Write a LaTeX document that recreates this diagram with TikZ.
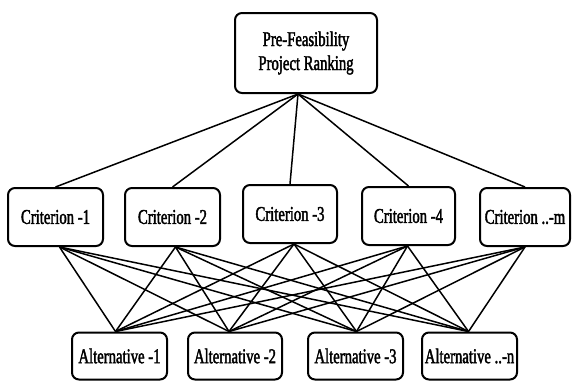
\documentclass[tikz,border=0pt]{standalone}
\usepackage{fontspec}
\setmainfont[FakeStretch=0.7,FakeBold=1.8]{Liberation Serif}
\begin{document}
\begin{tikzpicture}[x=1pt,y=-1pt,
  box/.style={draw=black,line width=2pt,rounded corners=7pt,fill=white,
    inner sep=0pt,align=center,font=\fontsize{21}{24}\selectfont},
  link/.style={draw=black,line width=1.5pt}]
\useasboundingbox (0,0) rectangle (572,381);
% nodes
\node[box,minimum width=142pt,minimum height=80pt] (top) at (306,53) {Pre-Feasibility\\Project Ranking};
\node[box,minimum width=95pt,minimum height=58pt] (c1) at (55.5,217) {Criterion -1};
\node[box,minimum width=95pt,minimum height=58pt] (c2) at (172.5,217) {Criterion -2};
\node[box,minimum width=94pt,minimum height=58pt] (c3) at (290,214) {Criterion -3};
\node[box,minimum width=93pt,minimum height=58pt] (c4) at (408.5,216) {Criterion -4};
\node[box,minimum width=90pt,minimum height=58pt] (c5) at (525,217) {Criterion ..-m};
\node[box,minimum width=95pt,minimum height=47pt] (a1) at (119.5,356) {Alternative -1};
\node[box,minimum width=94pt,minimum height=47pt] (a2) at (235,356) {Alternative -2};
\node[box,minimum width=95pt,minimum height=47pt] (a3) at (355.5,356) {Alternative -3};
\node[box,minimum width=95pt,minimum height=47pt] (a4) at (469.5,356) {Alternative ..-n};
\coordinate (hub) at ([xshift=-8pt]top.south);
% connectors top -> criteria
\foreach \c in {c1,c2,c3,c4,c5}{
  \draw[link] (hub) -- (\c.north);
}
% connectors criteria -> alternatives
\foreach \c/\dx in {c1/4,c2/3,c3/4,c4/-1,c5/0}{
  \foreach \a/\ax in {a1/-4,a2/-6,a3/1,a4/-1}{
    \draw[link] ([xshift=\dx pt]\c.south) -- ([xshift=\ax pt]\a.north);
  }
}
\end{tikzpicture}
\end{document}
